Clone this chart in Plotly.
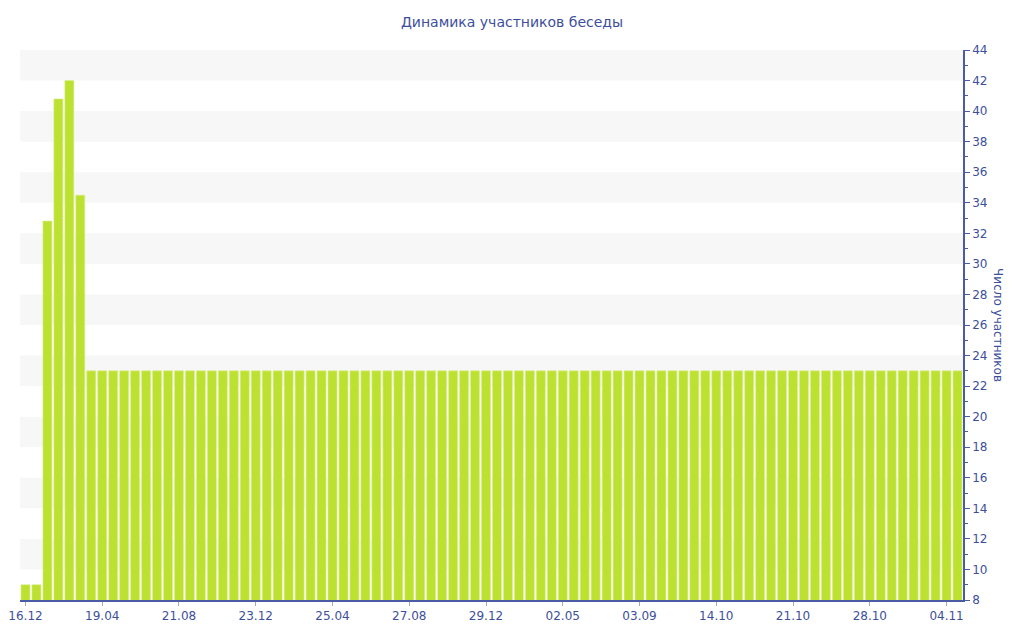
import plotly.graph_objects as go

# Data
values = [9, 9, 32.8, 40.8, 42, 34.5,
          23, 23, 23, 23, 23, 23, 23, 23, 23, 23,
          23, 23, 23, 23, 23, 23, 23, 23, 23, 23,
          23, 23, 23, 23, 23, 23, 23, 23, 23, 23,
          23, 23, 23, 23, 23, 23, 23, 23, 23, 23,
          23, 23, 23, 23, 23, 23, 23, 23, 23, 23,
          23, 23, 23, 23, 23, 23, 23, 23, 23, 23,
          23, 23, 23, 23, 23, 23, 23, 23, 23, 23,
          23, 23, 23, 23, 23, 23, 23, 23, 23, 23]
positions = list(range(len(values)))
tick_positions = [0, 7, 14, 21, 28, 35, 42, 49, 56, 63, 70, 77, 84]
tick_labels = ["16.12", "19.04", "21.08", "23.12", "25.04", "27.08", "29.12",
               "02.05", "03.09", "14.10", "21.10", "28.10", "04.11"]
band_starts = [10, 14, 18, 22, 26, 30, 34, 38, 42]

txt = "#3d4f9c"
axis_col = "#4a5ca6"
font = "DejaVu Sans"

fig = go.Figure()
fig.add_trace(go.Bar(
    x=positions, y=values,
    marker=dict(color="#bde130", line=dict(color="#dcef8c", width=0.6)),
    hoverinfo="y",
))

shapes = []
for b in band_starts:
    shapes.append(dict(type="rect", xref="paper", yref="y", x0=0, x1=1, y0=b, y1=b + 2,
                       fillcolor="#f7f7f7", line=dict(width=0), layer="below"))

fig.update_layout(
    width=1008, height=624,
    margin=dict(l=12, r=53, t=42, b=32, autoexpand=False),
    paper_bgcolor="white", plot_bgcolor="white",
    bargap=0.18,
    showlegend=False,
    shapes=shapes,
    title=dict(text="Динамика участников беседы", x=0.5, xanchor="center",
               y=0.978, yanchor="middle",
               font=dict(family=font, size=14, color=txt)),
    font=dict(family=font, size=12, color=txt),
    xaxis=dict(
        range=[-0.5, len(values) - 0.5],
        tickmode="array", tickvals=tick_positions, ticktext=tick_labels,
        showgrid=False, zeroline=False, automargin=False,
        showline=True, linecolor=axis_col, linewidth=1.5,
        ticks="outside", ticklen=4, tickcolor="#aaaaaa",
        tickfont=dict(family=font, size=12, color=txt),
    ),
    yaxis=dict(
        side="right", range=[8, 44], dtick=2, tick0=8,
        showgrid=False, zeroline=False, automargin=False,
        showline=True, linecolor=axis_col, linewidth=1.5,
        ticks="outside", ticklen=5, tickcolor=axis_col,
        tickfont=dict(family=font, size=12, color=txt),
        minor=dict(dtick=1, ticks="outside", ticklen=3, tickcolor=axis_col, showgrid=False),
    ),
    annotations=[dict(text="Число участников", xref="paper", yref="paper",
                      x=1.037, y=0.5, xanchor="center", yanchor="middle",
                      textangle=90, showarrow=False,
                      font=dict(family=font, size=12, color=txt))],
)

fig.write_html("out.html")
